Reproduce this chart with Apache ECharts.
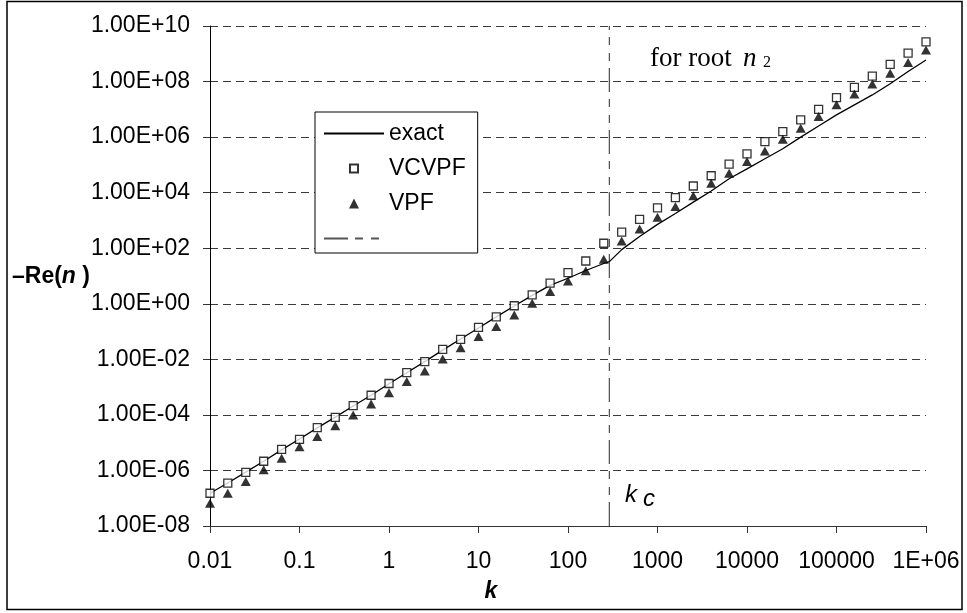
<!DOCTYPE html>
<html><head><meta charset="utf-8">
<script src="https://cdn.jsdelivr.net/npm/echarts@6/dist/echarts.min.js"></script>
<style>html,body{margin:0;padding:0;background:#fff}#c{width:967px;height:613px}</style>
</head><body><div id="c"></div>
<script>
// wavenumber k (log-spaced sample points)
const kValues = [0.01, 0.0158, 0.0251, 0.0398, 0.0631, 0.1, 0.158, 0.251, 0.398, 0.631,
  1, 1.58, 2.51, 3.98, 6.31, 10, 15.8, 25.1, 39.8, 63.1,
  100, 158, 251, 398, 631, 1000, 1585, 2512, 3981, 6310,
  10000, 15849, 25119, 39811, 63096, 100000, 158489, 251189, 398107, 630957, 1000000];
// -Re(n), VCVPF (open squares)
const vcvpfValues = [1.51e-7, 3.5e-7, 8.5e-7, 2.14e-6, 5.75e-6, 1.32e-5, 3.47e-5, 8.1e-5, 2.14e-4, 5.1e-4,
  1.35e-3, 3.3e-3, 8.3e-3, 2.29e-2, 5.2e-2, 0.141, 0.339, 0.85, 2.09, 5.5,
  13.2, 34.7, 151, 380, 1.1e3, 2.82e3, 6.6e3, 1.74e4, 4.07e4, 1.07e5,
  2.51e5, 6.9e5, 1.58e6, 4.17e6, 1.0e7, 2.63e7, 6.2e7, 1.58e8, 4.17e8, 1.05e9, 2.69e9];
// -Re(n), VPF (filled triangles)
const vpfValues = [6.6e-8, 1.51e-7, 4.0e-7, 1.05e-6, 2.75e-6, 7.2e-6, 1.66e-5, 4.1e-5, 1.0e-4, 2.45e-4,
  6.3e-4, 1.58e-3, 3.8e-3, 1.02e-2, 2.63e-2, 6.6e-2, 0.151, 0.398, 1.05, 2.75,
  6.6, 15.5, 39.8, 182, 490, 1.29e3, 3.16e3, 7.8e3, 2.19e4, 5.0e4,
  1.32e5, 3.16e5, 8.3e5, 2.09e6, 5.5e6, 1.45e7, 3.55e7, 8.1e7, 2.0e8, 4.9e8, 1.38e9];
// -Re(n), exact solution
const exactValues = [1.51e-7, 3.55e-7, 8.7e-7, 2.14e-6, 5.5e-6, 1.35e-5, 3.4e-5, 8.3e-5, 2.09e-4, 5.1e-4,
  1.32e-3, 3.3e-3, 8.3e-3, 2.14e-2, 5.4e-2, 0.135, 0.339, 0.83, 2.0, 4.6,
  8.3, 15.8, 28.2, 89, 263, 724, 1.78e3, 4.57e3, 1.15e4, 3.16e4,
  7.2e4, 1.66e5, 3.8e5, 1.0e6, 2.51e6, 6.3e6, 1.45e7, 3.3e7, 8.3e7, 2.29e8, 6.0e8];
// critical wavenumber and exact value there
const kc = 290;
const exactAtKc = 33;
const yRange = [1e-8, 1e10];
const xRange = [0.01, 1e6];

const xTickLabels = ['0.01', '0.1', '1', '10', '100', '1000', '10000', '100000', '1E+06'];
const yTickLabels = ['1.00E-08', '1.00E-06', '1.00E-04', '1.00E-02', '1.00E+00',
  '1.00E+02', '1.00E+04', '1.00E+06', '1.00E+08', '1.00E+10'];
const seriesNames = ['exact', 'VCVPF', 'VPF', ' '];

const exactData = kValues.map((k, i) => [k, exactValues[i]]);
exactData.push([kc, exactAtKc]);
exactData.sort((a, b) => a[0] - b[0]);

const FONT = 'Liberation Sans, Arial, sans-serif';
const SERIF = 'Liberation Serif, Times New Roman, serif';
// legend icons: a small marker centred in a 60x10 box
const squareIcon = 'path://M0,0M60,10M26,1h8v8h-8z';
const triangleIcon = 'path://M0,0M60,10M30,0L35,10L25,10Z';

const chart = echarts.init(document.getElementById('c'), null, {renderer: 'canvas'});
chart.setOption({
  animation: false,
  backgroundColor: '#fff',
  grid: {left: 210, right: 41, top: 26, bottom: 87, outerBoundsMode: 'none', containLabel: false},
  xAxis: {
    type: 'log', logBase: 10, min: xRange[0], max: xRange[1],
    axisLine: {show: true, onZero: false, lineStyle: {color: '#333', width: 1}},
    axisTick: {show: true, inside: false, length: 7, lineStyle: {color: '#333', width: 1}},
    minorTick: {show: false},
    splitLine: {show: false},
    axisLabel: {
      margin: 24, color: '#000', fontFamily: FONT, fontSize: 23,
      formatter: v => { const e = Math.round(Math.log10(v)); return xTickLabels[e + 2] || ''; }
    }
  },
  yAxis: {
    type: 'log', logBase: 100, min: yRange[0], max: yRange[1],
    axisLine: {show: true, lineStyle: {color: '#000', width: 1}},
    axisTick: {show: true, inside: false, length: 7, lineStyle: {color: '#333', width: 1}},
    minorTick: {show: false},
    splitLine: {show: true, lineStyle: {color: '#3a3a3a', width: 1, type: [8, 5]}},
    axisLabel: {
      margin: 20, color: '#000', fontFamily: FONT, fontSize: 23,
      formatter: v => { const e = Math.round(Math.log10(v)); return yTickLabels[(e + 8) / 2] || ''; }
    }
  },
  legend: {
    orient: 'vertical', left: 315, top: 112,
    itemWidth: 60, itemHeight: 10, itemGap: 12,
    padding: [10, 12, 3, 8],
    borderColor: '#000', borderWidth: 1, backgroundColor: '#fff',
    textStyle: {fontFamily: FONT, fontSize: 23, color: '#000'},
    data: [
      {name: seriesNames[0], itemStyle: {opacity: 0}},
      {name: seriesNames[1], icon: squareIcon},
      {name: seriesNames[2], icon: triangleIcon},
      {name: seriesNames[3], itemStyle: {opacity: 0}}
    ],
    selectedMode: false
  },
  series: [
    {name: seriesNames[0], type: 'line', data: exactData, symbol: 'none', z: 2,
      lineStyle: {color: '#000', width: 1.3}, itemStyle: {color: '#000'}},
    {name: seriesNames[1], type: 'scatter', data: kValues.map((k, i) => [k, vcvpfValues[i]]),
      symbol: 'rect', symbolSize: 8, z: 3,
      itemStyle: {color: '#fff', borderColor: '#000', borderWidth: 1.3}},
    {name: seriesNames[2], type: 'scatter', data: kValues.map((k, i) => [k, vpfValues[i]]),
      symbol: 'triangle', symbolSize: [10, 9], z: 4,
      itemStyle: {color: '#000'}},
    {name: seriesNames[3], type: 'line', data: [[kc, yRange[0]], [kc, yRange[1]]], symbol: 'none', z: 1,
      lineStyle: {color: '#555', width: 1.3, type: [24, 7, 8, 8, 8, 7]}, itemStyle: {color: '#555'}}
  ],
  graphic: [
    {type: 'rect', silent: true, shape: {x: 7, y: 1.5, width: 955, height: 608}, style: {fill: null, stroke: '#000', lineWidth: 1.5}},
    {type: 'text', silent: true, style: {x: 650, y: 58.5, textVerticalAlign: 'middle', text: 'for root',
      font: '27px ' + SERIF, fill: '#000'}},
    {type: 'text', silent: true, style: {x: 743, y: 58.5, textVerticalAlign: 'middle', text: 'n',
      font: 'italic 27px ' + SERIF, fill: '#000'}},
    {type: 'text', silent: true, style: {x: 763, y: 62.5, textVerticalAlign: 'middle', text: '2',
      font: '16px ' + SERIF, fill: '#000'}},
    {type: 'text', silent: true, style: {x: 625, y: 495.5, textVerticalAlign: 'middle', text: 'k',
      font: 'italic 24px ' + FONT, fill: '#000'}},
    {type: 'text', silent: true, style: {x: 643, y: 499.5, textVerticalAlign: 'middle', text: 'c',
      font: 'italic 24px ' + FONT, fill: '#000'}},
    {type: 'text', silent: true, style: {x: 12, y: 277, textVerticalAlign: 'middle', text: '{a|–Re(}{b|n}{a| )}',
      rich: {a: {fontFamily: FONT, fontWeight: 'bold', fontSize: 23, fill: '#000'},
             b: {fontFamily: FONT, fontWeight: 'bold', fontStyle: 'italic', fontSize: 23, fill: '#000'}}}},
    {type: 'text', silent: true, style: {x: 491, y: 592, textAlign: 'center', textVerticalAlign: 'middle', text: 'k',
      font: 'italic bold 23px ' + FONT, fill: '#000'}}
  ]
});
</script></body></html>
